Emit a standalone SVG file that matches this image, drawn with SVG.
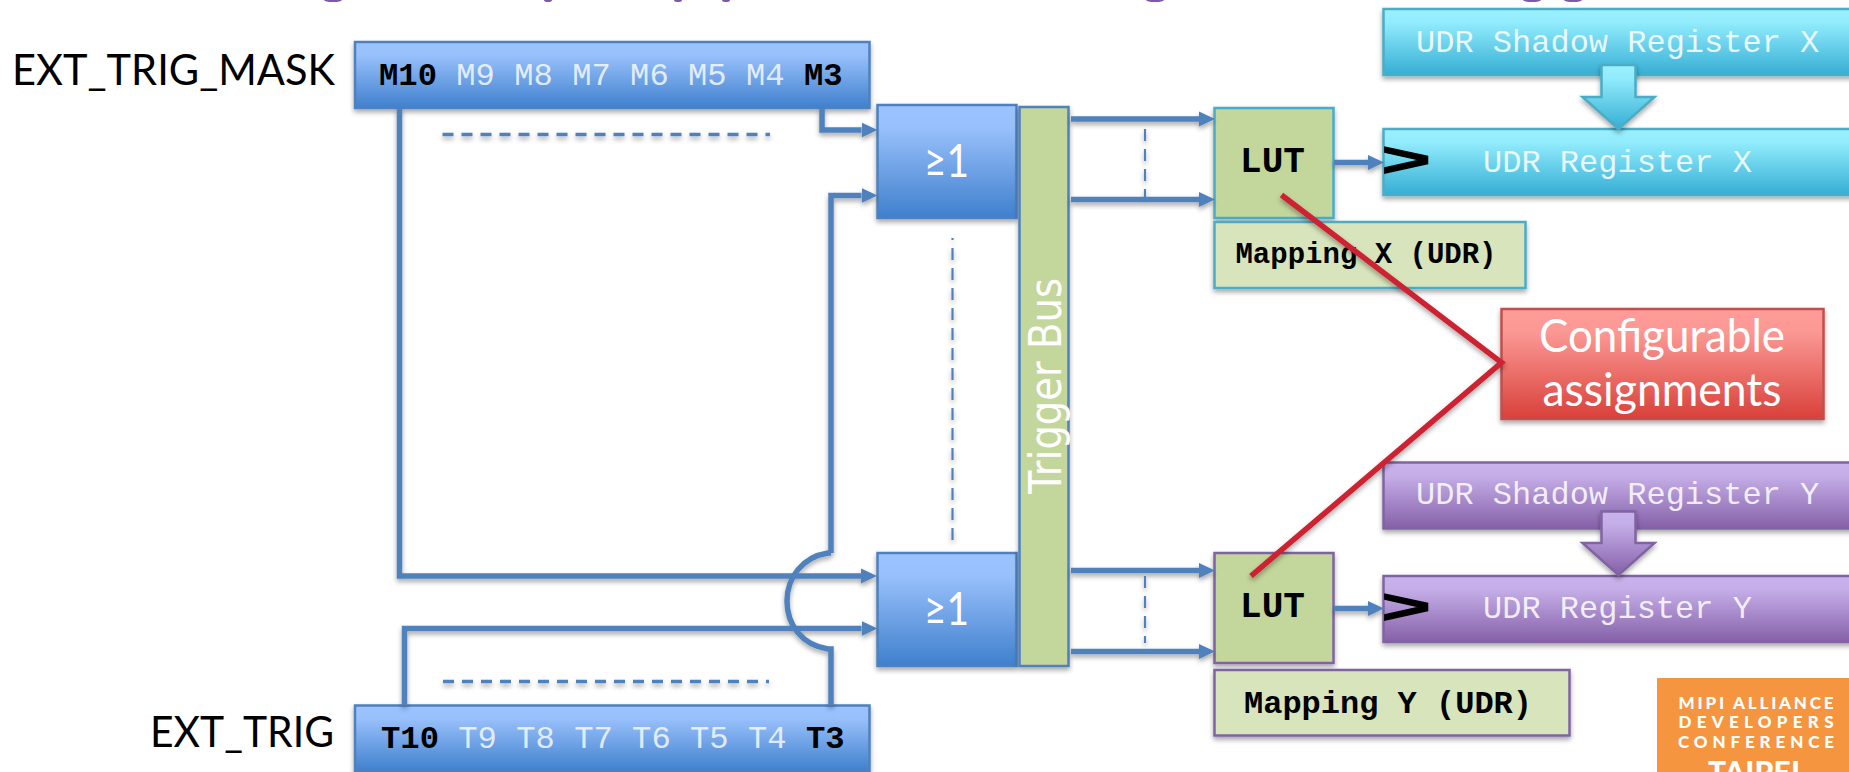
<svg xmlns="http://www.w3.org/2000/svg" width="1849" height="772" viewBox="0 0 1849 772">
<style>
text{font-family:"Liberation Mono",monospace}
.lab{font-family:Lato,"Open Sans",sans-serif;fill:#000;font-size:42px}
.m{font-size:32.2px;fill:#fff;fill-opacity:.8}
.b{font-weight:bold;fill:#000;fill-opacity:1}
.t{fill:#fff;fill-opacity:.85;font-size:32px}
.wh{font-family:Lato,"Open Sans",sans-serif;fill:#fff}
.blue{fill:url(#gb);stroke:#4f81bd;stroke-width:2.5}
.cy{fill:url(#gc);stroke:#4bacc6;stroke-width:2.5}
.pu{fill:url(#gp);stroke:#8064a2;stroke-width:2.5}
.lc{fill:#c3d69b;stroke:#4bacc6;stroke-width:2.5}
.lp{fill:#c3d69b;stroke:#8064a2;stroke-width:2.5}
.mc{fill:#d8e4bc;stroke:#4bacc6;stroke-width:2.5}
.mp{fill:#d8e4bc;stroke:#8064a2;stroke-width:2.5}
.s{filter:url(#sh)}
.w{fill:none;stroke:#4f81bd;stroke-width:5.5}
.a{marker-end:url(#ah)}
.d{fill:none;stroke:#4f81bd;stroke-width:2.2}
.dh{stroke-width:3.5;stroke-dasharray:11 8}
.dv{stroke-dasharray:12 8}
.r{fill:none;stroke:#cc2030;stroke-width:5.5}
.ck{font-weight:bold;fill:#000;stroke:#000;stroke-width:1.2}
.logo{font-family:Lato,"Open Sans",sans-serif;font-weight:900;fill:#fff;font-size:17px;text-anchor:middle}
</style>
<defs>
<linearGradient id="gb" x1="0" y1="0" x2="0" y2="1"><stop offset="0" stop-color="#9cc3ff"/><stop offset=".2" stop-color="#98c0fb"/><stop offset="1" stop-color="#3f80cd"/></linearGradient>
<linearGradient id="gc" x1="0" y1="0" x2="0" y2="1"><stop offset="0" stop-color="#9af0ff"/><stop offset=".2" stop-color="#92ecfd"/><stop offset="1" stop-color="#35aed4"/></linearGradient>
<linearGradient id="gp" x1="0" y1="0" x2="0" y2="1"><stop offset="0" stop-color="#c9b3ec"/><stop offset=".2" stop-color="#c5aee8"/><stop offset="1" stop-color="#8560a8"/></linearGradient>
<linearGradient id="gr" x1="0" y1="0" x2="0" y2="1"><stop offset="0" stop-color="#ff9c99"/><stop offset=".2" stop-color="#fc9995"/><stop offset="1" stop-color="#d9403a"/></linearGradient>
<filter id="sh" x="-10%" y="-10%" width="120%" height="125%"><feDropShadow dx="0" dy="3" stdDeviation="2.5" flood-color="#000" flood-opacity=".35"/></filter>
<marker id="ah" markerUnits="userSpaceOnUse" markerWidth="16" markerHeight="16" refX="0" refY="8" orient="auto"><path d="M0 .5L16 8L0 15.5Z" fill="#4f81bd"/></marker>
</defs>
<rect width="1849" height="772" fill="#fff"/>
<g id="title-clip" fill="#7e57b0">
<ellipse cx="333" cy="0" rx="9" ry="2"/><ellipse cx="548" cy="0" rx="4" ry="2"/><ellipse cx="678" cy="0" rx="4" ry="2"/><ellipse cx="726" cy="0" rx="4" ry="2"/><ellipse cx="1155" cy="0" rx="9" ry="2"/><ellipse cx="1532" cy="0" rx="9" ry="2"/><ellipse cx="1573" cy="0" rx="9" ry="2"/>
</g>
<g id="label-mask"><text class="lab" x="12" y="85" textLength="323" lengthAdjust="spacingAndGlyphs">EXT_TRIG_MASK</text></g>
<g id="label-trig"><text class="lab" x="150" y="747" textLength="184" lengthAdjust="spacingAndGlyphs">EXT_TRIG</text></g>
<g id="mask-reg"><rect class="blue s" x="355" y="42" width="514.500" height="66"/>
<text class="m" x="379" y="85"><tspan class="b">M10</tspan> M9 M8 M7 M6 M5 M4 <tspan class="b">M3</tspan></text></g>
<g id="trig-reg"><rect class="blue s" x="355" y="705.500" width="514.500" height="66"/>
<text class="m" x="381" y="748"><tspan class="b">T10</tspan> T9 T8 T7 T6 T5 T4 <tspan class="b">T3</tspan></text></g>
<g id="or-x"><rect class="blue s" x="877.500" y="105" width="139" height="113"/><text class="wh" x="924" y="177" font-size="46" textLength="45" lengthAdjust="spacingAndGlyphs">≥1</text></g>
<g id="or-y"><rect class="blue s" x="877.500" y="553" width="139" height="113"/><text class="wh" x="924" y="625" font-size="46" textLength="45" lengthAdjust="spacingAndGlyphs">≥1</text></g>
<g id="trigger-bus"><rect class="s" fill="#c3d69b" stroke="#4f81bd" stroke-width="2.500" x="1019.500" y="107" width="49" height="559"/>
<text transform="translate(1061 494) rotate(-90)" font-size="44" fill="#fff" style="font-family:'DejaVu Sans',sans-serif" textLength="216" lengthAdjust="spacingAndGlyphs">Trigger Bus</text></g>
<g id="lut-x"><rect class="lc s" x="1214.500" y="108" width="119" height="110"/><text class="b" x="1272.500" y="172" font-size="36" text-anchor="middle">LUT</text></g>
<g id="map-x"><rect class="mc s" x="1214.500" y="222" width="311" height="66"/><text class="b" x="1366" y="263" font-size="29" text-anchor="middle">Mapping X (UDR)</text></g>
<g id="lut-y"><rect class="lp s" x="1214.500" y="553" width="119" height="110"/><text class="b" x="1272.500" y="617" font-size="36" text-anchor="middle">LUT</text></g>
<g id="map-y"><rect class="mp s" x="1214.500" y="670" width="355" height="65.500"/><text class="b" x="1388" y="713" font-size="32" text-anchor="middle">Mapping Y (UDR)</text></g>
<g id="udr-shadow-x"><rect class="cy s" x="1383.500" y="9" width="480" height="66"/><text class="t" x="1416" y="52">UDR Shadow Register X</text></g>
<g id="udr-x"><rect class="cy s" x="1383.500" y="129" width="480" height="66"/><text class="t" x="1483" y="172">UDR Register X</text>
<text class="ck" transform="translate(1381 176) scale(1.75 1)" font-size="48">&gt;</text></g>
<g id="push-x"><path class="cy s" d="M1601.500 65H1635.500V97H1654.500L1618.500 129L1582.500 97H1601.500Z"/></g>
<g id="udr-shadow-y"><rect class="pu s" x="1383.500" y="462.500" width="480" height="66"/><text class="t" x="1416" y="504">UDR Shadow Register Y</text></g>
<g id="udr-y"><rect class="pu s" x="1383.500" y="576" width="480" height="66"/><text class="t" x="1483" y="618">UDR Register Y</text>
<text class="ck" transform="translate(1381 622.500) scale(1.75 1)" font-size="48">&gt;</text></g>
<g id="push-y"><path class="pu s" d="M1601.500 511.500H1635.500V543H1654.500L1618.500 575L1582.500 543H1601.500Z"/></g>
<g id="config"><rect class="s" fill="url(#gr)" stroke="#c0504d" stroke-width="2.500" x="1501.500" y="309" width="322" height="110"/>
<text class="wh" x="1539" y="352" font-size="46" textLength="246" lengthAdjust="spacingAndGlyphs">Configurable</text>
<text class="wh" x="1542.500" y="406" font-size="46" textLength="239" lengthAdjust="spacingAndGlyphs">assignments</text></g>
<g id="logo"><rect x="1657" y="678" width="192" height="94" fill="#f5953f"/>
<text class="logo" x="1756" y="709" textLength="155">MIPI ALLIANCE</text>
<text class="logo" x="1756" y="728" textLength="155">DEVELOPERS</text>
<text class="logo" x="1756" y="748" textLength="156">CONFERENCE</text>
<text class="logo" x="1754" y="783" style="font-size:30px" textLength="92">TAIPEI</text></g>
<g id="connectors" class="s">
<path class="w a" d="M399.500 108V576H861"/>
<path class="w a" d="M822 108V130H861.500"/>
<path class="w a" d="M831 553V195.500H861.500"/>
<path class="w" d="M831 553H828C802 557 787 578 787 601C787 625 802 645 828 649H831V705.500"/>
<path class="w a" d="M404.500 705.500V628.500H861.500"/>
<path class="w a" d="M1071 119H1199"/>
<path class="w a" d="M1071 199.500H1199"/>
<path class="w a" d="M1071 570.500H1199"/>
<path class="w a" d="M1071 651.500H1199"/>
<path class="w a" d="M1334 162.500H1368"/>
<path class="w a" d="M1334 608.500H1368"/>
<path class="d dh" d="M442.500 134.500H770"/>
<path class="d dh" d="M443 681.500H769"/>
<path class="d dv" stroke-dashoffset="10" d="M952.500 238V540"/>
<path class="d dv" d="M1145 129V197"/>
<path class="d dv" d="M1145 576V643"/>
<path class="r" d="M1281.500 195L1501.500 362.500L1251 576"/>
</g>
</svg>
